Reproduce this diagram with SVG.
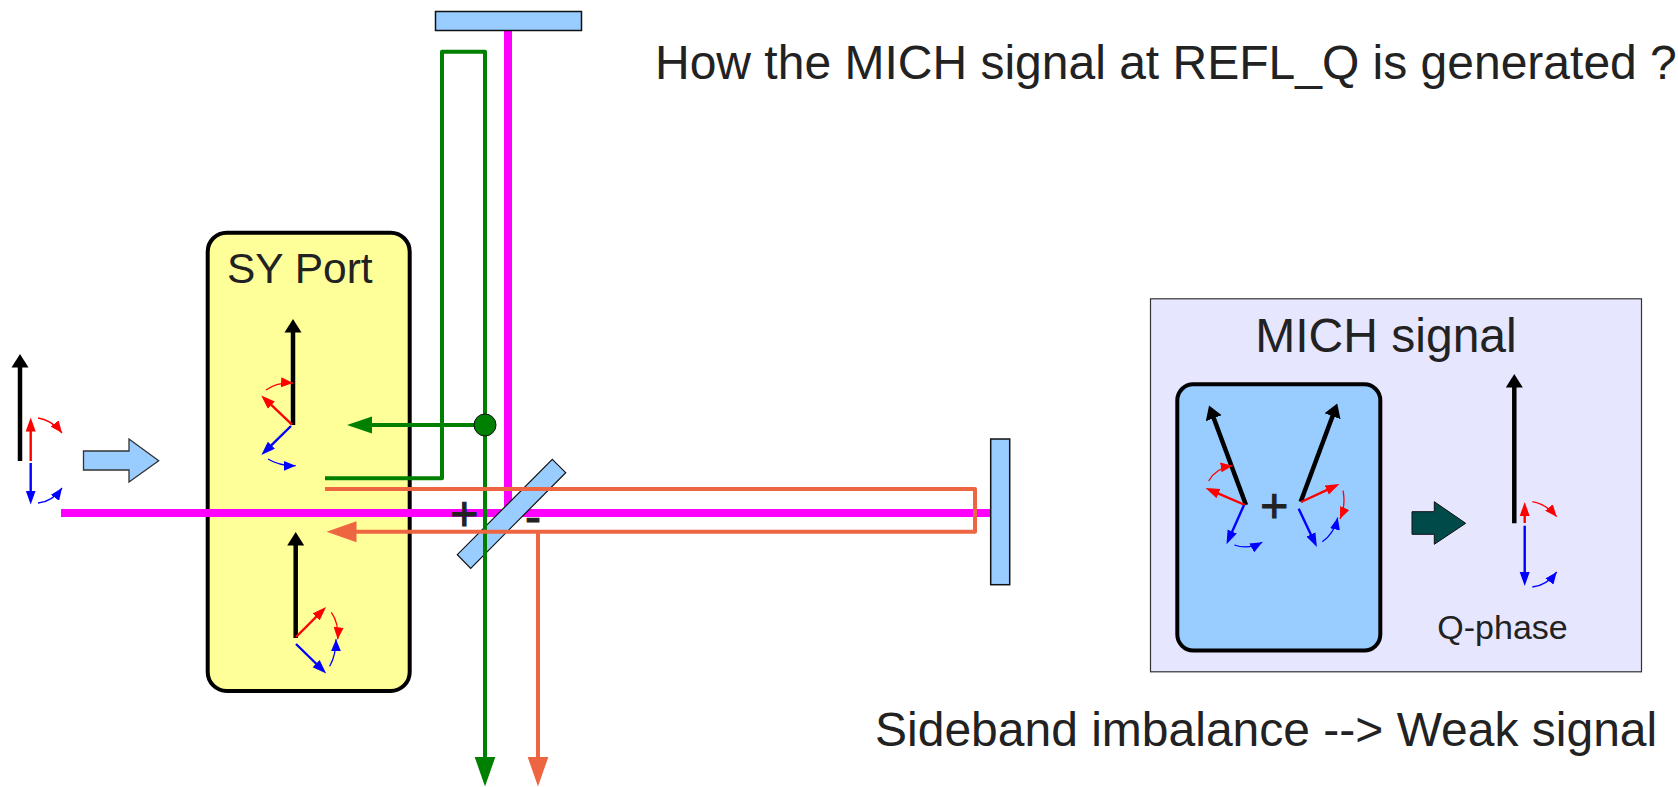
<svg xmlns="http://www.w3.org/2000/svg" width="1678" height="787" viewBox="0 0 1678 787">
<style>
text{font-family:"Liberation Sans",Arial,sans-serif;fill:#222}
.t48{font-size:48px}
.heavy{stroke:#222;stroke-width:1}
.mirror{fill:#99ccff;stroke:#111;stroke-width:1.5}
.beam{fill:none;stroke-linejoin:round}
.mag{stroke:#ff00ff;stroke-width:8}
.grn{stroke:#008000;stroke-width:4}
.org{stroke:#ed6641;stroke-width:4}
.k{stroke:#000;stroke-width:4.5;fill:none;marker-end:url(#hk)}
.r{stroke:#ff0000;stroke-width:2.4;fill:none;marker-end:url(#hr)}
.b{stroke:#0000ff;stroke-width:2.4;fill:none;marker-end:url(#hb)}
.ra{stroke:#ff0000;stroke-width:1.3;fill:none;marker-end:url(#ar)}
.ba{stroke:#0000ff;stroke-width:1.3;fill:none;marker-end:url(#ab)}
</style>
<defs>
<marker id="hk" markerUnits="userSpaceOnUse" markerWidth="14" markerHeight="18" refX="0.5" refY="9" orient="auto"><path d="M0,.5L13.5,9L0,17.5z" fill="#000"/></marker>
<marker id="hr" markerUnits="userSpaceOnUse" markerWidth="15" markerHeight="11" refX="0.5" refY="5.5" orient="auto"><path d="M0,.5L14,5.5L0,10.5z" fill="#ff0000"/></marker>
<marker id="hb" markerUnits="userSpaceOnUse" markerWidth="15" markerHeight="11" refX="0.5" refY="5.5" orient="auto"><path d="M0,.5L14,5.5L0,10.5z" fill="#0000ff"/></marker>
<marker id="ar" markerUnits="userSpaceOnUse" markerWidth="13" markerHeight="10" refX="12" refY="5" orient="auto"><path d="M0,0L12,5L0,10z" fill="#ff0000"/></marker>
<marker id="ab" markerUnits="userSpaceOnUse" markerWidth="13" markerHeight="10" refX="12" refY="5" orient="auto"><path d="M0,0L12,5L0,10z" fill="#0000ff"/></marker>
<marker id="gs" markerUnits="userSpaceOnUse" markerWidth="26" markerHeight="18" refX="0.5" refY="9" orient="auto"><path d="M0,.5L25,9L0,17.5z" fill="#008000"/></marker>
<marker id="gl" markerUnits="userSpaceOnUse" markerWidth="31" markerHeight="22" refX="0.5" refY="11" orient="auto"><path d="M0,.5L30,11L0,21.5z" fill="#008000"/></marker>
<marker id="ol" markerUnits="userSpaceOnUse" markerWidth="31" markerHeight="22" refX="0.5" refY="11" orient="auto"><path d="M0,.5L30,11L0,21.5z" fill="#ed6641"/></marker>
</defs>
<rect width="1678" height="787" fill="#fff"/>

<text id="title" class="t48" x="655" y="79">How the MICH signal at REFL_Q is generated ?</text>
<text id="caption" class="t48" x="875" y="746">Sideband imbalance --&gt; Weak signal</text>

<g id="input-phasors">
<path class="k" d="M20,461V367"/>
<path class="r" d="M30.7,461V431"/>
<path class="b" d="M30.7,463V491"/>
<path class="ra" d="M38,418Q52,420 62,433"/>
<path class="ba" d="M38,503Q52,502 62,488"/>
</g>
<path id="input-arrow" d="M83.5,451H129V439L158.7,460.7L129,482V470H83.5z" fill="#99ccff" stroke="#333" stroke-width="1.3"/>

<g id="sy-port">
<rect x="207.7" y="232.7" width="202" height="458.3" rx="19" fill="#ffff99" stroke="#000" stroke-width="4"/>
<text x="227" y="283" font-size="42.5">SY Port</text>
</g>

<g id="connectors">
<g id="magenta-beam" class="beam mag"><path d="M61,513H990"/><path d="M508,30V513"/></g>
<path id="beamsplitter" d="M552.3,459.3L565.7,472.7L470.7,568.3L457.3,554.7z" fill="#99ccff" stroke="#111" stroke-width="1.2"/>
<g class="beam grn">
<path d="M325,478.3H442V51.7H485V757" marker-end="url(#gl)"/>
<path d="M485,425H371.500" marker-end="url(#gs)"/>
</g>
<g class="beam org">
<path d="M325,489H975V531.7H356" marker-end="url(#ol)"/>
<path d="M538,531.7V757" marker-end="url(#ol)"/>
</g>
</g>

<circle id="pickoff" cx="485" cy="425" r="11" fill="#008000" stroke="#111" stroke-width="1"/>
<rect id="mirror-top" class="mirror" x="435.5" y="11.5" width="146" height="19"/>
<rect id="mirror-right" class="mirror" x="990.7" y="439" width="19" height="145.7"/>
<text id="plus" class="t48 heavy" x="464.3" y="530" text-anchor="middle">+</text>
<text id="minus" class="t48 heavy" x="533" y="533" text-anchor="middle">-</text>

<g id="sy-upper-phasors">
<path class="k" d="M293,425V332"/>
<path class="r" d="M292,424.7L271,404.7"/>
<path class="b" d="M291,426L271,445.6"/>
<path class="ra" d="M266,390Q277,382 293,383"/>
<path class="ba" d="M268,459Q279,466 295.7,465.7"/>
</g>
<g id="sy-lower-phasors">
<path class="k" d="M295.7,638V545"/>
<path class="r" d="M296,637L316.5,616.5"/>
<path class="b" d="M296,644L316.5,664"/>
<path class="ra" d="M331.3,612.3Q339,623 337.7,639.3"/>
<path class="ba" d="M329.7,666.3Q336,655 336,639.3"/>
</g>

<g id="mich-panel">
<rect x="1150.5" y="298.8" width="491" height="373" fill="#e6e6ff" stroke="#333" stroke-width="1.2"/>
<text class="t48" x="1386" y="352" text-anchor="middle">MICH signal</text>
<rect x="1177.3" y="384.3" width="203" height="266.3" rx="16" fill="#99ccff" stroke="#000" stroke-width="4"/>
<path class="k" d="M1246,505L1213.6,417.8"/>
<path class="r" d="M1245,505L1218,493.4"/>
<path class="b" d="M1244,505L1232,532"/>
<path class="ra" d="M1208.7,481Q1216,468 1232.7,465.7"/>
<path class="ba" d="M1234.3,545Q1248,550 1262.3,542.3"/>
<text class="t48 heavy" x="1274.3" y="522" text-anchor="middle">+</text>
<path class="k" d="M1300.7,501.7L1332.7,415.8"/>
<path class="r" d="M1301,502L1327.2,489.8"/>
<path class="b" d="M1298.7,508.7L1311.1,534.9"/>
<path class="ra" d="M1343,490.7Q1346,505 1340,519"/>
<path class="ba" d="M1322.3,541.7Q1334,534 1337.7,517.7"/>
<path d="M1412,511.7H1434.3V501.7L1465.7,523.3L1434.3,544.3V534.3H1412z" fill="#004a4a" stroke="#111" stroke-width="1"/>
<path class="k" d="M1514.3,523.3V387"/>
<path class="r" d="M1524.7,523V515.5"/>
<path class="b" d="M1524.7,525.7V572.500"/>
<path class="ra" d="M1532.3,501.7Q1546,504 1556.7,516.7"/>
<path class="ba" d="M1532.3,587Q1546,586 1556.7,572"/>
<text x="1502.500" y="638.500" font-size="34" text-anchor="middle">Q-phase</text>
</g>
</svg>
